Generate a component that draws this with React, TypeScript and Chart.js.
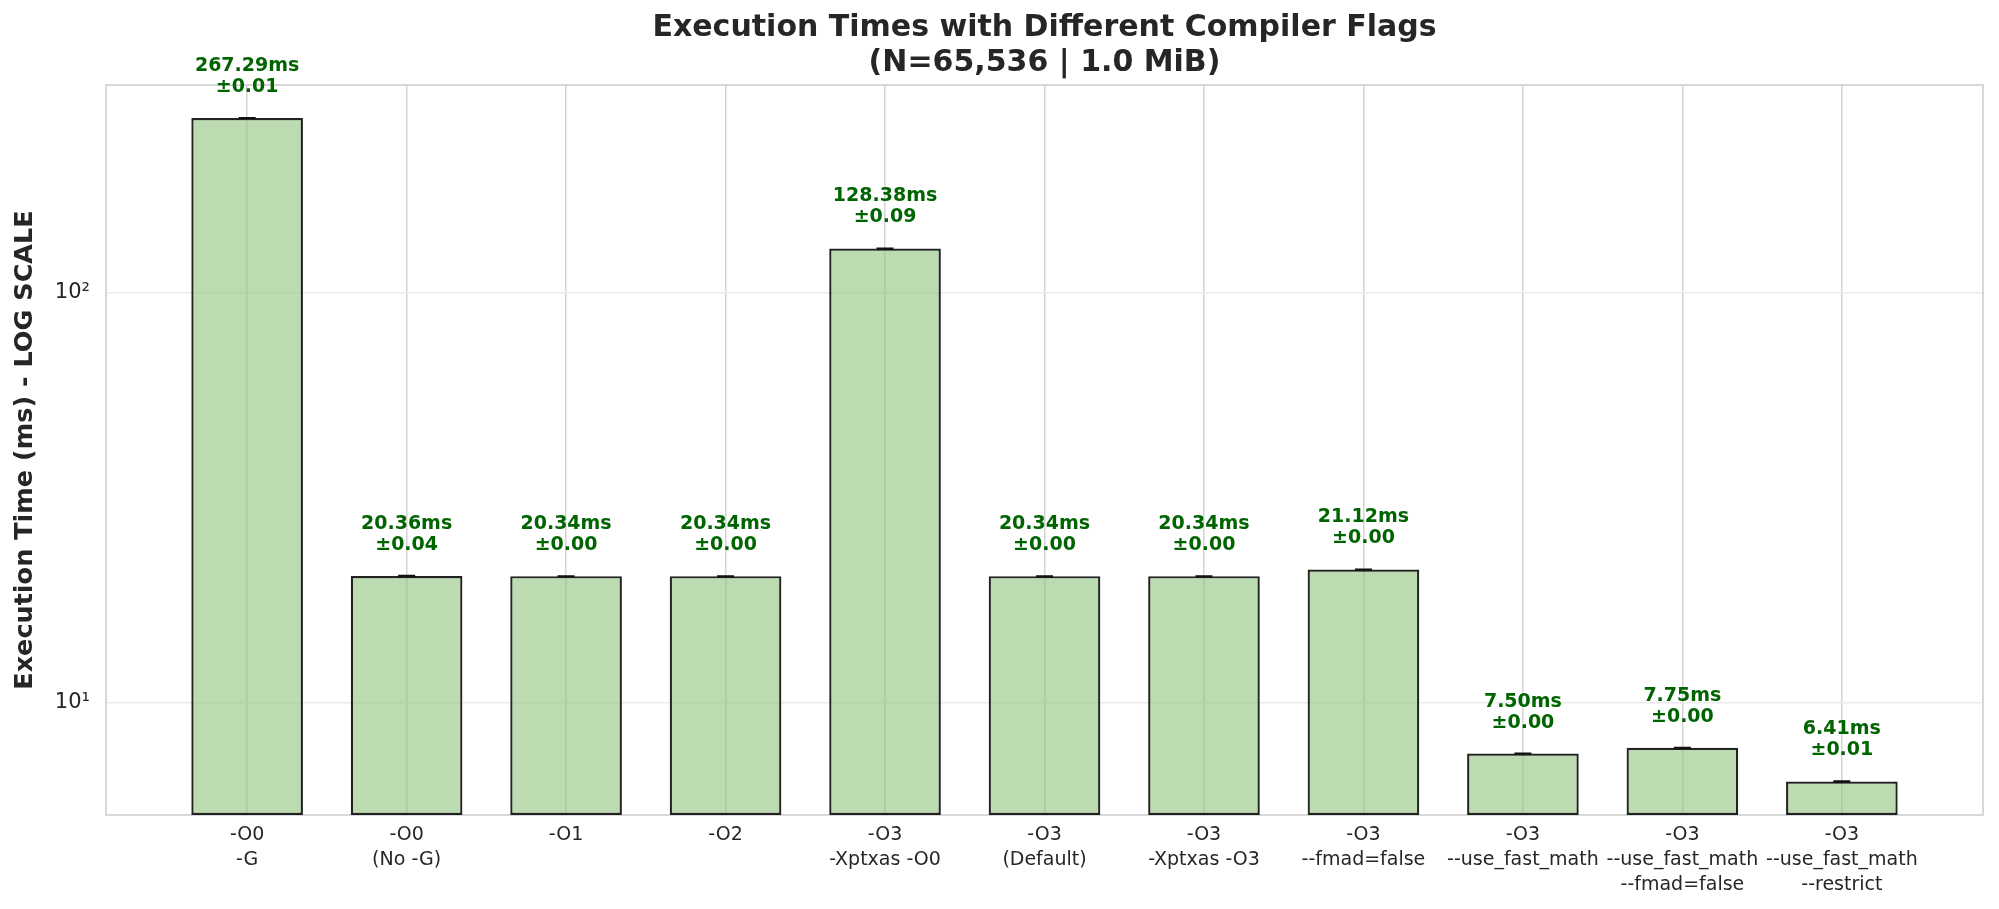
import React, { useEffect, useRef } from "react";
import { Chart, registerables } from "chart.js";

Chart.register(...registerables);

const categories: string[][] = [
  ["-O0", "-G"],
  ["-O0", "(No -G)"],
  ["-O1"],
  ["-O2"],
  ["-O3", "-Xptxas -O0"],
  ["-O3", "(Default)"],
  ["-O3", "-Xptxas -O3"],
  ["-O3", "--fmad=false"],
  ["-O3", "--use_fast_math"],
  ["-O3", "--use_fast_math", "--fmad=false"],
  ["-O3", "--use_fast_math", "--restrict"],
];
const meanTimes: number[] = [267.29, 20.36, 20.34, 20.34, 128.38, 20.34, 20.34, 21.12, 7.5, 7.75, 6.41];
const stdTimes: number[] = [0.01, 0.04, 0.0, 0.0, 0.09, 0.0, 0.0, 0.0, 0.0, 0.0, 0.01];
const yTickValues: number[] = [10, 100];
const yTickLabels: string[] = ["10¹", "10²"];

const FONT = "'DejaVu Sans', sans-serif";

const framePlugin = {
  id: "frame",
  beforeDatasetsDraw(chart: any) {
    const { ctx, chartArea } = chart;
    ctx.save();
    ctx.strokeStyle = "#cccccc";
    ctx.lineWidth = 1.5;
    ctx.strokeRect(chartArea.left, chartArea.top, chartArea.right - chartArea.left, chartArea.bottom - chartArea.top);
    ctx.restore();
  },
};

const annotPlugin = {
  id: "annot",
  afterDatasetsDraw(chart: any) {
    const { ctx, scales } = chart;
    const xs = scales.x;
    const ys = scales.y;
    ctx.save();
    meanTimes.forEach((v, i) => {
      const e = stdTimes[i];
      const cx = xs.getPixelForValue(i);
      const yHi = ys.getPixelForValue(v + e);
      const yLo = ys.getPixelForValue(Math.max(v - e, 1e-6));
      ctx.strokeStyle = "#111111";
      ctx.lineWidth = 2;
      ctx.beginPath();
      ctx.moveTo(cx, yLo);
      ctx.lineTo(cx, yHi);
      ctx.moveTo(cx - 8.5, yHi);
      ctx.lineTo(cx + 8.5, yHi);
      ctx.moveTo(cx - 8.5, yLo);
      ctx.lineTo(cx + 8.5, yLo);
      ctx.stroke();

      const top = ys.getPixelForValue(v);
      ctx.fillStyle = "#006400";
      ctx.font = `bold 19px ${FONT}`;
      ctx.textAlign = "center";
      ctx.textBaseline = "middle";
      ctx.fillText(`${v.toFixed(2)}ms`, cx, top - 52);
      ctx.fillText(`±${e.toFixed(2)}`, cx, top - 31);
    });
    ctx.restore();
  },
};

export default function App() {
  const canvasRef = useRef<HTMLCanvasElement | null>(null);

  useEffect(() => {
    document.body.style.margin = "0";
    const canvas = canvasRef.current;
    if (!canvas) return;
    const chart = new Chart(canvas, {
      type: "bar",
      data: {
        datasets: [
          {
            data: meanTimes.map((v, i) => ({ x: i, y: v })),
            backgroundColor: "rgba(145, 195, 123, 0.6)",
            borderColor: "rgba(15, 15, 15, 0.92)",
            borderWidth: 2.2,
            borderSkipped: false,
            categoryPercentage: 1,
            barPercentage: 0.7,
          },
        ],
      },
      options: {
        animation: false,
        responsive: true,
        maintainAspectRatio: false,
        layout: { padding: { left: 0, right: 16, top: 0, bottom: 0 } },
        plugins: {
          legend: { display: false },
          tooltip: { enabled: false },
          title: {
            display: true,
            fullSize: false,
            text: ["Execution Times with Different Compiler Flags", "(N=65,536 | 1.0 MiB)"],
            color: "#262626",
            font: { family: FONT, size: 30, weight: "bold", lineHeight: 1.15 },
            padding: { top: 11, bottom: 5 },
          },
        },
        scales: {
          x: {
            type: "linear",
            min: -0.885,
            max: 10.885,
            offset: false,
            afterBuildTicks: (scale: any) => {
              scale.ticks = categories.map((_, i) => ({ value: i }));
            },
            afterFit: (scale: any) => {
              scale.height = 94;
            },
            ticks: {
              autoSkip: false,
              maxRotation: 0,
              padding: 8,
              color: "#262626",
              font: { family: FONT, size: 19, lineHeight: 1.3 },
              callback: (value: any) => {
                const c = categories[Math.round(Number(value))];
                return c ? (c.length === 1 ? c[0] : c) : "";
              },
            },
            grid: { color: "#d4d4d4", lineWidth: 1.5, drawTicks: false, offset: false },
            border: { display: false },
          },
          y: {
            type: "logarithmic",
            min: 5.31,
            max: 322,
            afterBuildTicks: (scale: any) => {
              scale.ticks = yTickValues.map((v) => ({ value: v }));
            },
            afterFit: (scale: any) => {
              scale.width = 106;
            },
            ticks: {
              padding: 16,
              color: "#262626",
              font: { family: FONT, size: 21 },
              callback: (value: any) => {
                const idx = yTickValues.indexOf(Number(value));
                return idx >= 0 ? yTickLabels[idx] : "";
              },
            },
            grid: { color: "#ebebeb", lineWidth: 1.5, drawTicks: false },
            border: { display: false },
            title: {
              display: true,
              text: "Execution Time (ms) - LOG SCALE",
              color: "#262626",
              font: { family: FONT, size: 25.5, weight: "bold", lineHeight: 1.2 },
              padding: { top: 10, bottom: 0 },
            },
          },
        },
      },
      plugins: [framePlugin, annotPlugin],
    } as any);
    return () => chart.destroy();
  }, []);

  return (
    <div style={{ width: "1999px", height: "909px", position: "relative", background: "#ffffff" }}>
      <canvas ref={canvasRef} />
    </div>
  );
}
